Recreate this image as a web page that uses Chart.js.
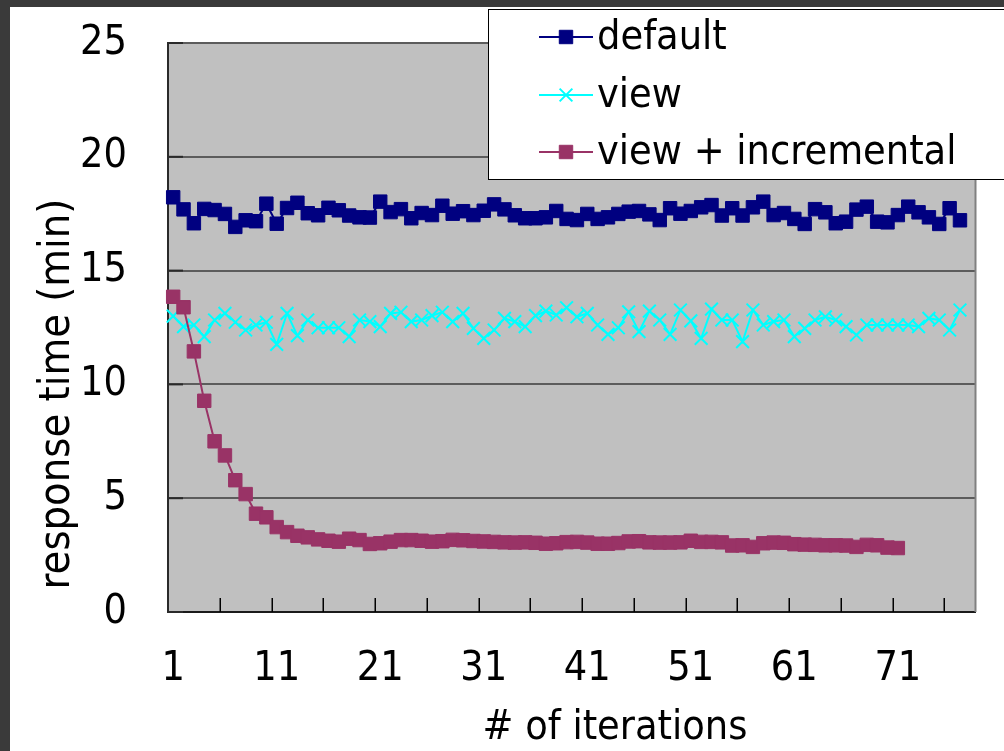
<!DOCTYPE html>
<html>
<head>
<meta charset="utf-8">
<script src="https://cdn.jsdelivr.net/npm/chart.js@4.4.1/dist/chart.umd.min.js"></script>
<style>
  html, body { margin: 0; padding: 0; background: #ffffff; }
  #wrap { position: relative; width: 1004px; height: 751px; overflow: hidden; background: #ffffff; }
  #c { position: absolute; left: 0; top: 0; }
  .edge { position: absolute; background: #3a3a3a; }
</style>
</head>
<body>
<div id="wrap">
  <canvas id="c" width="1004" height="751"></canvas>
  <div class="edge" style="left:0;top:0;width:1004px;height:7px;"></div>
  <div class="edge" style="left:0;top:0;width:10px;height:751px;"></div>
</div>
<script>
// Iteration numbers along the x axis
const iterations = [
  1, 2, 3, 4, 5, 6, 7, 8, 9, 10, 11, 12, 13, 14, 15, 16, 17, 18, 19, 20,
  21, 22, 23, 24, 25, 26, 27, 28, 29, 30, 31, 32, 33, 34, 35, 36, 37, 38, 39, 40,
  41, 42, 43, 44, 45, 46, 47, 48, 49, 50, 51, 52, 53, 54, 55, 56, 57, 58, 59, 60,
  61, 62, 63, 64, 65, 66, 67, 68, 69, 70, 71, 72, 73, 74, 75, 76, 77, 78
];

// Iterations that carry a printed label
const xTickLabels = ['1', '11', '21', '31', '41', '51', '61', '71'];

// Response time in minutes, per iteration
const defaultTimes = [
  18.22, 17.69, 17.08, 17.71, 17.66, 17.49, 16.92, 17.21, 17.17, 17.94,
  17.06, 17.75, 17.98, 17.52, 17.43, 17.76, 17.65, 17.42, 17.34, 17.33,
  18.03, 17.57, 17.70, 17.30, 17.53, 17.44, 17.85, 17.50, 17.61, 17.44,
  17.63, 17.91, 17.69, 17.43, 17.30, 17.30, 17.34, 17.62, 17.27, 17.22,
  17.49, 17.27, 17.34, 17.49, 17.59, 17.62, 17.47, 17.22, 17.74, 17.50,
  17.62, 17.78, 17.88, 17.42, 17.74, 17.42, 17.78, 18.03, 17.44, 17.53,
  17.27, 17.05, 17.70, 17.56, 17.08, 17.15, 17.68, 17.81, 17.15, 17.12,
  17.44, 17.81, 17.56, 17.34, 17.05, 17.74, 17.21
];

const viewTimes = [
  13.00, 12.54, 12.61, 12.10, 12.83, 13.12, 12.73, 12.39, 12.61, 12.73,
  11.76, 13.12, 12.14, 12.83, 12.49, 12.49, 12.49, 12.10, 12.83, 12.76,
  12.54, 13.12, 13.17, 12.76, 12.83, 13.02, 13.17, 12.76, 13.12, 12.46,
  12.02, 12.39, 12.90, 12.76, 12.54, 13.02, 13.22, 13.05, 13.37, 12.97,
  13.12, 12.61, 12.20, 12.49, 13.19, 12.32, 13.22, 12.83, 12.20, 13.27,
  12.79, 12.02, 13.31, 12.83, 12.83, 11.88, 13.27, 12.61, 12.76, 12.83,
  12.10, 12.46, 12.83, 12.97, 12.83, 12.54, 12.17, 12.61, 12.61, 12.61,
  12.61, 12.61, 12.54, 12.90, 12.83, 12.39, 13.27
];

const viewIncrementalTimes = [
  13.85, 13.39, 11.45, 9.28, 7.50, 6.88, 5.79, 5.18, 4.32, 4.16,
  3.73, 3.51, 3.35, 3.28, 3.19, 3.13, 3.09, 3.22, 3.16, 2.99,
  3.02, 3.09, 3.16, 3.16, 3.13, 3.09, 3.11, 3.17, 3.15, 3.12,
  3.10, 3.08, 3.06, 3.05, 3.06, 3.04, 3.00, 3.02, 3.07, 3.08,
  3.05, 3.00, 3.00, 3.03, 3.10, 3.11, 3.06, 3.05, 3.05, 3.06,
  3.13, 3.08, 3.08, 3.06, 2.92, 2.93, 2.86, 3.02, 3.05, 3.04,
  2.98, 2.96, 2.95, 2.93, 2.93, 2.92, 2.86, 2.95, 2.93, 2.83,
  2.81
];

const seriesNames = ['default', 'view', 'view + incremental'];
const yAxisTitle = 'response time (min)';
const xAxisTitle = '# of iterations';

const FONT = "'DejaVu Sans Condensed', 'DejaVu Sans', sans-serif";
const FONT_SIZE = 41;

// Silver plot background, right frame edge and the short inward tick marks
const plotFrame = {
  id: 'plotFrame',
  beforeDraw(chart) {
    const { ctx, chartArea: a } = chart;
    ctx.save();
    ctx.fillStyle = '#c0c0c0';
    ctx.fillRect(a.left, a.top, a.right - a.left, a.bottom - a.top);
    ctx.restore();
  },
  beforeDatasetsDraw(chart) {
    const { ctx, chartArea: a, scales } = chart;
    const x = scales.x, y = scales.y;
    ctx.save();
    ctx.strokeStyle = '#808080';
    ctx.lineWidth = 2;
    ctx.beginPath();
    ctx.moveTo(a.right, a.top);
    ctx.lineTo(a.right, a.bottom);
    ctx.stroke();

    ctx.strokeStyle = '#2a2a2a';
    ctx.lineWidth = 2;
    y.ticks.forEach((t, i) => {
      const py = y.getPixelForTick(i);
      ctx.beginPath();
      ctx.moveTo(a.left, py);
      ctx.lineTo(a.left + 15, py);
      ctx.stroke();
    });

    ctx.strokeStyle = '#000000';
    ctx.lineWidth = 1.5;
    for (let k = 5; k < iterations.length; k += 5) {
      const px = Math.round(x.getPixelForValue(k - 0.5)) + 0.25;
      ctx.beginPath();
      ctx.moveTo(px, a.bottom);
      ctx.lineTo(px, a.bottom - 14);
      ctx.stroke();
    }
    ctx.restore();
  }
};

function drawMarker(ctx, ds, cx, cy) {
  ctx.save();
  ctx.fillStyle = ds.pointBackgroundColor;
  ctx.strokeStyle = ds.pointBorderColor;
  ctx.lineWidth = ds.pointBorderWidth;
  if (ds.pointStyle === 'rect') {
    const s = Math.SQRT1_2 * ds.pointRadius;
    ctx.beginPath();
    ctx.rect(cx - s, cy - s, 2 * s, 2 * s);
    ctx.fill();
    ctx.stroke();
  } else {
    const o = Math.SQRT1_2 * ds.pointRadius;
    ctx.beginPath();
    ctx.moveTo(cx - o, cy - o); ctx.lineTo(cx + o, cy + o);
    ctx.moveTo(cx - o, cy + o); ctx.lineTo(cx + o, cy - o);
    ctx.stroke();
  }
  ctx.restore();
}

// Boxed legend in the upper right, plus the two axis captions
const captions = {
  id: 'captions',
  afterDraw(chart) {
    const { ctx } = chart;
    ctx.save();
    ctx.fillStyle = '#ffffff';
    ctx.fillRect(488.5, 9.5, 530, 170);
    ctx.strokeStyle = '#000000';
    ctx.lineWidth = 1;
    ctx.strokeRect(488.5, 9.5, 530, 170);

    const rows = [37, 95, 152];
    chart.data.datasets.forEach((ds, i) => {
      const cy = rows[i];
      ctx.strokeStyle = ds.borderColor;
      ctx.lineWidth = ds.borderWidth;
      ctx.beginPath();
      ctx.moveTo(539, cy);
      ctx.lineTo(593, cy);
      ctx.stroke();
      drawMarker(ctx, ds, 566, cy);
      ctx.fillStyle = '#000000';
      ctx.font = FONT_SIZE + 'px ' + FONT;
      ctx.textAlign = 'left';
      ctx.textBaseline = 'middle';
      ctx.fillText(ds.label, 597, cy + 1);
    });

    ctx.fillStyle = '#000000';
    ctx.font = FONT_SIZE + 'px ' + FONT;
    ctx.textAlign = 'center';
    ctx.textBaseline = 'alphabetic';
    ctx.fillText(xAxisTitle, 615, 739);

    ctx.font = '43px ' + FONT;
    ctx.translate(69, 394);
    ctx.rotate(-Math.PI / 2);
    ctx.fillText(yAxisTitle, 0, 0);
    ctx.restore();
  }
};

const tickFont = { family: FONT, size: FONT_SIZE };

new Chart(document.getElementById('c'), {
  type: 'line',
  data: {
    labels: iterations.map(String),
    datasets: [
      {
        label: seriesNames[0],
        data: defaultTimes,
        borderColor: '#000080',
        backgroundColor: '#000080',
        borderWidth: 2,
        pointStyle: 'rect',
        pointRadius: 9.5,
        pointBackgroundColor: '#000080',
        pointBorderColor: '#000080',
        pointBorderWidth: 1,
        order: 2
      },
      {
        label: seriesNames[1],
        data: viewTimes,
        borderColor: '#00ffff',
        backgroundColor: '#00ffff',
        borderWidth: 2,
        pointStyle: 'crossRot',
        pointRadius: 9,
        pointBackgroundColor: '#00ffff',
        pointBorderColor: '#00ffff',
        pointBorderWidth: 2,
        order: 1
      },
      {
        label: seriesNames[2],
        data: viewIncrementalTimes,
        borderColor: '#993366',
        backgroundColor: '#993366',
        borderWidth: 2,
        pointStyle: 'rect',
        pointRadius: 9.5,
        pointBackgroundColor: '#993366',
        pointBorderColor: '#993366',
        pointBorderWidth: 1,
        order: 0
      }
    ]
  },
  options: {
    responsive: false,
    animation: false,
    devicePixelRatio: 1,
    layout: { padding: { top: 43, right: 28.5, left: 0, bottom: 0 } },
    plugins: {
      legend: { display: false },
      tooltip: { enabled: false }
    },
    elements: { line: { tension: 0 } },
    scales: {
      x: {
        type: 'category',
        offset: true,
        grid: { display: true, drawOnChartArea: false, drawTicks: false },
        border: { display: true, color: '#1a1a1a', width: 2 },
        ticks: {
          autoSkip: false,
          maxRotation: 0,
          minRotation: 0,
          padding: 33,
          color: '#000000',
          font: tickFont,
          callback(value) {
            const l = this.getLabelForValue(value);
            return xTickLabels.includes(l) ? l : '';
          }
        },
        afterFit(scale) { scale.height = 139; }
      },
      y: {
        min: 0,
        max: 25,
        grid: { color: '#5c5c5c', lineWidth: 2, drawTicks: false },
        border: { display: true, color: '#2a2a2a', width: 2 },
        ticks: {
          stepSize: 5,
          padding: 41,
          color: '#000000',
          font: tickFont
        },
        afterFit(scale) {
          scale.width = 168;
          scale.paddingTop = 0;
          scale.paddingBottom = 0;
        }
      }
    }
  },
  plugins: [plotFrame, captions]
});
</script>
</body>
</html>
